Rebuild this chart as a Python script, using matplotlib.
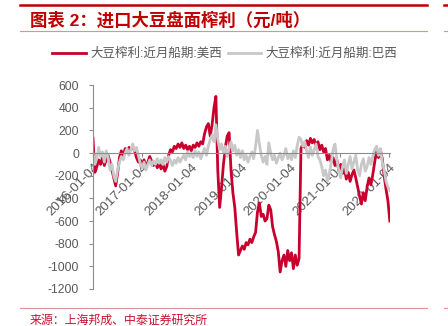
import pandas as pd
import matplotlib.pyplot as plt
from matplotlib.lines import Line2D

plt.rcParams['font.family'] = ['Liberation Sans', 'Noto Sans CJK SC']
plt.rcParams['axes.unicode_minus'] = False

# fortnightly crush margin, yuan/ton
dates = pd.date_range('2016-01-04', periods=158, freq='14D')

us_west = [
    130, -170, -120, -60, -100, -40, -110, -60, -20, -80, -150, -220, -290, -180, -40, 20,
    -30, 40, 10, 50, 30, 60, 20, -40, -80, -60,
    -100, -60, -120, -80, -30, -70, -110, -80, -130, -90, -140, -100, -160, -120, -20, 30,
    10, 60, 40, 80, 50, 90, 40, 70, 30, 60,
    20, 70, 50, 90, 60, 100, 80, 170, 230, 260, 150, 250, 400, 500, -150, -480,
    -300, -100, 50, 150, 180, -150, -350, -480, -700, -900,
    -860, -820, -850, -790, -810, -760, -790, -740, -700, -520, -440, -560, -540, -600, -580, -460,
    -500, -650, -720, -780, -870, -1050, -950, -900, -1000, -860,
    -950, -880, -1020, -900, -990, -930, 40, 80, 50, 110, 70, 130, 90, 120, 60, 100,
    30, 70, 10, 40, -60, -20, -80, -40, -110, -60,
    -150, -100, -180, -140, -230, -170, -250, -190, -150, -220, -300, -380, -450, -350, -420, -300,
    -220, -280, -190, -80, 20, -40, 30, -50, -200, -320,
    -420, -600,
]

brazil = [
    0, -100, -50, 50, -30, 10, -80, 20, -40, -150, -100, -200, -250, -150, -80, -30,
    -60, 0, 40, -20, 30, 80, 20, 50, -20, -90,
    -130, -80, -150, -100, -60, -110, -70, -100, -50, -90, -60, -100, -40, -80, -30, -70,
    -110, -60, -90, -40, -80, -50, -20, -60, 10, -30,
    0, -40, 20, -30, 10, -50, 0, 40, -20, 60, 120, 160, 100, 250, 120, 30,
    80, 0, 60, -30, 40, 100, 20, 70, -20, 30,
    -40, 20, -60, -20, -80, -30, 10, -50, 60, 200, 80, -20, -80, -30, -100, 90,
    0, -60, -20, -90, -40, 0, -60, -20, 40, -50,
    -10, -60, 20, -40, 60, 140, 120, 60, 100, 20, -40, 50, -20, 30, 80, -30,
    -60, -120, -200, -150, -250, -180, -90, 30, 80, -60,
    -150, -220, -120, -60, -180, -100, -30, -140, -80, -20, -150, -200, -100, -50, -160, -120,
    -40, -100, -30, 30, 60, -20, 40, -80, -150, -250,
    -300, -330,
]

tick_dates = pd.to_datetime(['2016-01-04', '2017-01-04', '2018-01-04', '2019-01-04',
                             '2020-01-04', '2021-01-04', '2022-01-04'])
yticks = list(range(-1200, 601, 200))

red = '#C8002D'
grey = '#C8C8C8'
axis_grey = '#8C8C8C'
text_grey = '#595959'

fig = plt.figure(figsize=(4.48, 3.26), dpi=100)
ax = fig.add_axes([0.2076, 0.1135, 0.6625, 0.6255])

ax.plot(dates, us_west, color=red, lw=2, label='大豆榨利:近月船期:美西')
ax.plot(dates, brazil, color=grey, lw=2, label='大豆榨利:近月船期:巴西')

ax.set_xlim(dates[0], dates[-1])
ax.set_ylim(-1200, 600)
ax.set_yticks(yticks)
ax.set_yticklabels([str(v) for v in yticks])
ax.set_xticks(tick_dates)
ax.set_xticklabels(tick_dates.strftime('%Y-%m-%d'))

for s in ['top', 'right']:
    ax.spines[s].set_visible(False)
ax.spines['bottom'].set_position(('data', 0))
ax.spines['bottom'].set_color(axis_grey)
ax.spines['left'].set_color(axis_grey)
ax.tick_params(axis='y', length=3, color=axis_grey, labelsize=8.7, labelcolor=text_grey, pad=7)
ax.tick_params(axis='x', length=3, color=axis_grey, labelsize=9.6, labelcolor=text_grey, pad=3)
plt.setp(ax.get_xticklabels(), rotation=45, ha='right', rotation_mode='anchor')

fig.legend(loc='center', bbox_to_anchor=(0.502, 1 - 54 / 326), ncol=2, frameon=False,
           fontsize=9, handlelength=2.7, handletextpad=0.35, columnspacing=0.45,
           labelcolor=text_grey)

# header and footer rules
fig.add_artist(Line2D([20 / 448, 427 / 448], [1 - 5 / 326] * 2, color='#C00000', lw=1.8))
fig.add_artist(Line2D([444 / 448, 1], [1 - 5 / 326] * 2, color='#C00000', lw=1.8))
for yy in [31, 308]:
    fig.add_artist(Line2D([20 / 448, 427 / 448], [1 - yy / 326] * 2, color='#E39090', lw=0.8))
    fig.add_artist(Line2D([444 / 448, 1], [1 - yy / 326] * 2, color='#E39090', lw=0.8))

fig.text(30 / 448, 1 - 19.5 / 326, '图表 2：进口大豆盘面榨利（元/吨）', color='#C00000',
         fontsize=12.5, fontweight='bold', va='center', ha='left')
fig.text(30 / 448, 1 - 321 / 326, '来源：上海邦成、中泰证券研究所', color='#C8102E',
         fontsize=8.6, va='center', ha='left')

fig.savefig('out.png', dpi=100)
